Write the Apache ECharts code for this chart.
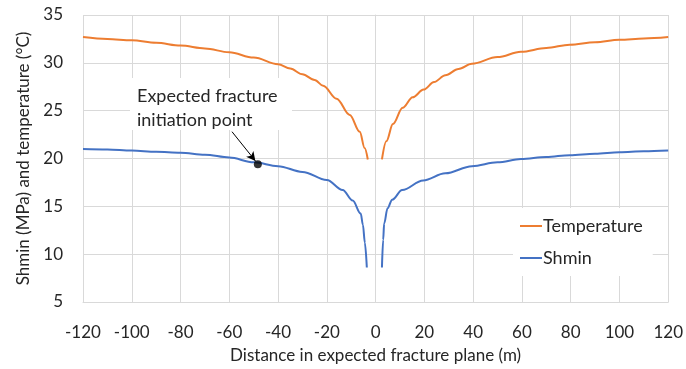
<!DOCTYPE html>
<html>
<head>
<meta charset="utf-8">
<script src="https://cdn.jsdelivr.net/npm/echarts@6/dist/echarts.min.js"></script>
<style>
  html, body { margin: 0; padding: 0; background: #fff; }
  #chart { width: 686px; height: 369px; }
</style>
</head>
<body>
<div id="chart"></div>
<script>
// Temperature profile (°C) on both sides of the wellbore
const tempLeftX  = [-120, -110, -100, -90, -80, -70, -60, -50, -40, -35, -30, -25, -21.5, -16, -10.6, -6.5, -4.5, -3.2];
const tempLeftY  = [32.7, 32.5, 32.35, 32.1, 31.8, 31.5, 31.1, 30.55, 29.85, 29.4, 28.8, 28.2, 27.6, 26.25, 24.55, 22.8, 21.1, 19.9];
const tempRightX = [2.6, 4.4, 7.1, 11.1, 15.2, 19.7, 24, 28.6, 34, 39.5, 50, 59.6, 70, 79.6, 90, 100, 110, 120];
const tempRightY = [19.9, 21.8, 23.6, 25.3, 26.4, 27.2, 28.0, 28.7, 29.35, 29.9, 30.6, 31.15, 31.55, 31.9, 32.15, 32.4, 32.55, 32.7];

// Minimum horizontal stress Shmin (MPa)
const shLeftX  = [-120, -110, -100, -90, -80, -70, -60, -50, -40, -30, -20, -13.5, -9.4, -6.1, -5.2, -4.4, -3.6];
const shLeftY  = [21.0, 20.95, 20.83, 20.7, 20.6, 20.4, 20.1, 19.6, 19.2, 18.6, 17.75, 16.7, 15.6, 14.25, 13.05, 11.2, 8.6];
const shRightX = [2.6, 3.1, 3.5, 4.9, 6.8, 10.9, 19.5, 28.6, 39.5, 50, 59.6, 70, 79.6, 90, 100, 110, 120];
const shRightY = [8.6, 11.5, 13.2, 14.8, 15.7, 16.7, 17.7, 18.45, 19.2, 19.6, 19.95, 20.15, 20.35, 20.5, 20.65, 20.75, 20.83];

// Expected fracture initiation point and the tail of its pointer arrow
const initPoint = [-48.3, 19.4];
const arrowFrom = [-58.9, 22.8];
const arrowTo   = [-49.3, 19.75];

const seriesNames = ['Temperature', 'Shmin'];
const xTicks = { min: -120, max: 120, step: 20 };
const yTicks = { min: 5, max: 35, step: 5 };

const ORANGE = '#ED7D31';
const BLUE = '#4472C4';
const GRID = '#D9D9D9';
const TEXT = '#262626';
const FONT = 'Lato, "Open Sans", sans-serif';

const zip = (xs, ys) => xs.map((x, i) => [x, ys[i]]);

function lineSeries(name, color, xs, ys) {
  return {
    name, type: 'line', data: zip(xs, ys),
    symbol: 'none', smooth: 0.35, smoothMonotone: 'x',
    lineStyle: { color, width: 2 }, itemStyle: { color },
    animation: false, z: 3
  };
}

const chart = echarts.init(document.getElementById('chart'), null, { renderer: 'canvas' });

chart.setOption({
  backgroundColor: '#fff',
  animation: false,
  textStyle: { fontFamily: FONT },
  grid: { left: 83, right: 16, top: 15, bottom: 62 },
  xAxis: {
    type: 'value', min: xTicks.min, max: xTicks.max, interval: xTicks.step,
    name: 'Distance in expected fracture plane (m)',
    nameLocation: 'middle', nameGap: 45,
    nameTextStyle: { fontSize: 17, color: TEXT, fontFamily: FONT },
    axisLine: { show: true, lineStyle: { color: GRID, width: 1 } },
    axisTick: { show: false },
    axisLabel: { fontSize: 17, color: TEXT, margin: 22, fontFamily: FONT },
    splitLine: { show: true, lineStyle: { color: GRID, width: 1 } }
  },
  yAxis: {
    type: 'value', min: yTicks.min, max: yTicks.max, interval: yTicks.step,
    name: 'Shmin (MPa) and temperature (°C)',
    nameLocation: 'middle', nameGap: 50, nameRotate: 90,
    nameTextStyle: { fontSize: 17, color: TEXT, fontFamily: FONT },
    axisLine: { show: true, lineStyle: { color: GRID, width: 1 } },
    axisTick: { show: false },
    axisLabel: { fontSize: 17, color: TEXT, margin: 20, fontFamily: FONT },
    splitLine: { show: true, lineStyle: { color: GRID, width: 1 } }
  },
  legend: {
    data: seriesNames.map(name => ({ name, icon: 'rect' })),
    orient: 'vertical',
    left: 513, top: 208,
    padding: [9, 10, 9, 7],
    itemGap: 14,
    itemWidth: 22, itemHeight: 2,
    backgroundColor: '#fff',
    textStyle: { fontSize: 18, color: TEXT, fontFamily: FONT, padding: [0, 0, 0, -4] }
  },
  series: [
    lineSeries(seriesNames[0], ORANGE, tempLeftX, tempLeftY),
    lineSeries(seriesNames[0], ORANGE, tempRightX, tempRightY),
    lineSeries(seriesNames[1], BLUE, shLeftX, shLeftY),
    lineSeries(seriesNames[1], BLUE, shRightX, shRightY),
    {
      type: 'scatter', data: [initPoint], symbolSize: 8,
      itemStyle: { color: '#000' }, z: 5, silent: true,
      markLine: {
        silent: true, animation: false,
        symbol: ['none', 'arrow'], symbolSize: [7, 9],
        lineStyle: { color: '#000', width: 1, type: 'solid' },
        label: { show: false },
        data: [[{ coord: arrowFrom }, { coord: arrowTo }]]
      }
    }
  ],
  graphic: [
    {
      type: 'rect', left: 130, top: 78, z: 10,
      shape: { width: 162, height: 52 },
      style: { fill: '#fff' }
    },
    {
      type: 'text', left: 137, top: 84, z: 11,
      style: {
        text: 'Expected fracture\ninitiation point',
        font: '18px ' + FONT, lineHeight: 24, fill: TEXT
      }
    }
  ]
});
</script>
</body>
</html>
